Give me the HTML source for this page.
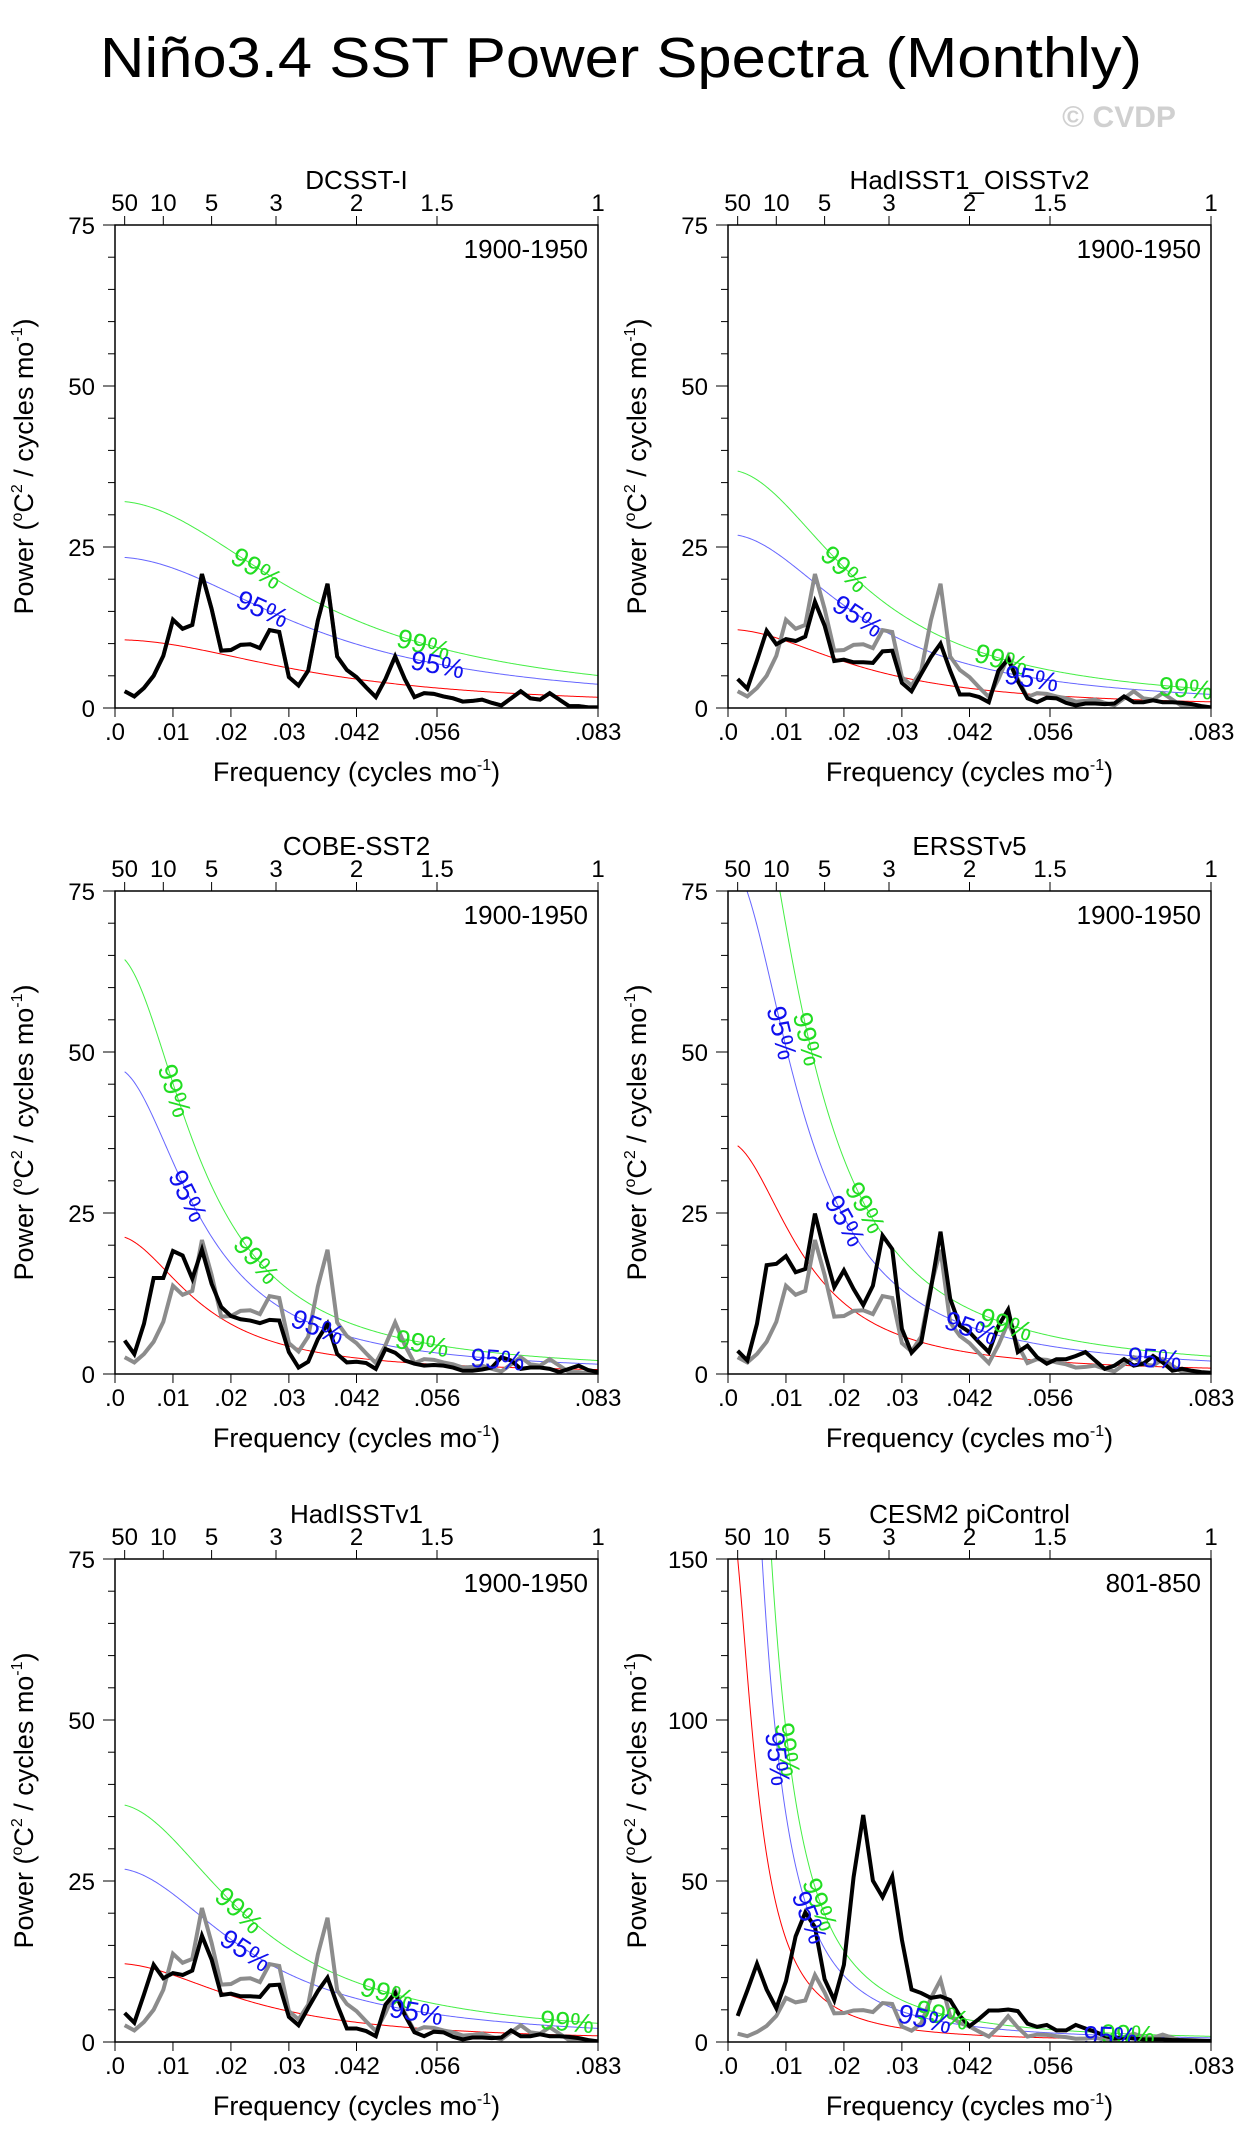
<!DOCTYPE html>
<html><head><meta charset="utf-8"><title>Niño3.4 SST Power Spectra</title>
<style>
html,body{margin:0;padding:0;background:#fff;}
svg{display:block;font-family:"Liberation Sans",Arial,sans-serif;}
</style></head>
<body>
<svg id="chart" width="1248" height="2152" viewBox="0 0 1248 2152" xmlns="http://www.w3.org/2000/svg">
<rect width="1248" height="2152" fill="#fff"/>
<text x="621" y="77" font-size="57" text-anchor="middle" textLength="1042" lengthAdjust="spacingAndGlyphs">Niño3.4 SST Power Spectra (Monthly)</text>
<text x="1119" y="127" font-size="30" font-weight="bold" fill="#d0d0d0" text-anchor="middle">© CVDP</text>
</svg>
<script>
// ---- data ----
const panelNames = ["DCSST-I","HadISST1_OISSTv2","COBE-SST2","ERSSTv5","HadISSTv1","CESM2 piControl"];
const panelPeriods = ["1900-1950","1900-1950","1900-1950","1900-1950","1900-1950","801-850"];
const panelYMax = [75,75,75,75,75,150];
const referencePower = [2.6,1.8,3.1,5.0,8.1,13.7,12.3,12.9,20.8,15.4,8.9,9.0,9.8,9.9,9.3,12.1,11.8,4.8,3.5,5.8,13.6,19.3,8.0,5.9,4.8,3.2,1.7,4.5,8.0,4.5,1.7,2.3,2.2,1.8,1.5,1.0,1.1,1.3,0.8,0.4,1.5,2.6,1.5,1.3,2.3,1.3,0.3,0.3,0.1,0.1];
const dcsstPower = [2.6,1.8,3.1,5.0,8.1,13.7,12.3,12.9,20.8,15.4,8.9,9.0,9.8,9.9,9.3,12.1,11.8,4.8,3.5,5.8,13.6,19.3,8.0,5.9,4.8,3.2,1.7,4.5,8.0,4.5,1.7,2.3,2.2,1.8,1.5,1.0,1.1,1.3,0.8,0.4,1.5,2.6,1.5,1.3,2.3,1.3,0.3,0.3,0.1,0.1];
const hadOisstPower = [4.5,3.0,7.4,12.0,9.9,10.7,10.4,11.1,16.5,12.8,7.3,7.5,7.1,7.1,7.0,8.8,8.9,3.9,2.6,5.3,7.9,10.0,5.8,2.1,2.1,1.7,0.9,5.8,7.6,4.2,1.5,0.9,1.6,1.5,0.8,0.4,0.7,0.7,0.6,0.7,1.8,0.9,0.9,1.2,0.9,0.9,0.8,0.6,0.3,0.1];
const cobePower = [5.2,3.1,7.8,14.9,14.9,19.1,18.4,14.8,19.3,14,10.4,9.0,8.5,8.3,7.9,8.4,8.3,3.4,1.0,1.9,5.4,7.8,3.1,1.8,1.9,1.7,0.8,3.9,3.3,2.1,1.6,1.3,1.4,1.3,1.0,0.5,0.5,0.7,1.0,2.6,2.1,0.8,1.0,1.0,0.8,0.3,0.8,1.3,0.6,0.3];
const ersstPower = [3.6,2.1,7.8,16.9,17.1,18.3,15.8,16.3,24.9,18.9,13.5,16.1,13.2,10.7,13.7,21.5,19.4,7.0,3.3,4.9,13.2,22.1,11.7,7.5,6.5,4.9,3.4,7.5,10.0,3.4,4.4,2.6,1.6,2.3,2.3,2.8,3.4,2.1,0.8,1.3,2.3,1.3,1.6,2.8,1.8,0.5,0.8,0.5,0.3,0.2];
const hadV1Power = [4.5,3.0,7.4,12.0,9.9,10.7,10.4,11.1,16.5,12.8,7.3,7.5,7.1,7.1,7.0,8.8,8.9,3.9,2.6,5.3,7.9,10.0,5.8,2.1,2.1,1.7,0.9,5.8,7.6,4.2,1.5,0.9,1.6,1.5,0.8,0.4,0.7,0.7,0.6,0.7,1.8,0.9,0.9,1.2,0.9,0.9,0.8,0.6,0.3,0.1];
const cesmPower = [8.1,16,24.3,16.3,10.5,18.9,32.8,40.2,35.7,19.5,13,24,51.2,70.5,50.1,45,51.4,31.8,16.3,15.2,13.7,14.2,13,8.1,4.9,7.2,9.8,9.8,10.1,9.6,5.7,4.7,5.3,3.6,3.6,5.3,4.2,3.2,1.9,1.1,1.4,1.1,0.8,0.8,0.8,0.6,0.6,0.5,0.4,0.3];
const redNoiseS0 = [10.6,12.2,21.5,36,12.2,168];
const redNoiseLag1 = [0.8,0.86,0.91,0.92,0.86,0.97];
const conf95Factor = 2.21;
const conf99Factor = 3.03;
const label99Freqs = [[0.0245,0.0533],[0.0202,0.0472,0.079],[0.0104,0.0245,0.053],[0.0139,0.0238,0.048],[0.0215,0.047,0.078],[0.0104,0.016,0.037,0.069]];
const label95Freqs = [[0.0255,0.0557],[0.0225,0.0524],[0.0127,0.035,0.066],[0.0094,0.0203,0.042,0.0736],[0.0226,0.052],[0.0087,0.0142,0.034,0.066]];
const xTickVals = [0,0.01,0.02,0.03,1/24,1/18,1/12];
const xTickLabels = [".0",".01",".02",".03",".042",".056",".083"];
const periodVals = [50,10,5,3,2,1.5,1];
const periodLabels = ["50","10","5","3","2","1.5","1"];
const panelSeries = [dcsstPower,hadOisstPower,cobePower,ersstPower,hadV1Power,cesmPower];

// ---- layout ----
const NS="http://www.w3.org/2000/svg";
const svg=document.getElementById('chart');
const colX=[115,728], rowY=[225,891,1559], PW=483, PH=483, FMAX=1/12;
function mk(tag,attrs,parent){const e=document.createElementNS(NS,tag);for(const k in attrs)e.setAttribute(k,attrs[k]);(parent||svg).appendChild(e);return e;}
function redNoise(p,f){const r=redNoiseLag1[p];return redNoiseS0[p]*(1-r)*(1-r)/(1-2*r*Math.cos(2*Math.PI*f)+r*r);}

panelNames.forEach((name,p)=>{
  const x0=colX[p%2], y0=rowY[Math.floor(p/2)], ymax=panelYMax[p];
  const sx=f=>x0+f/FMAX*PW;
  const sy=v=>y0+PH-v/ymax*PH;
  const g=mk('g',{});
  
  
  const clip=mk('clipPath',{id:'clip'+p},g);
  mk('rect',{x:x0,y:y0,width:PW,height:PH},clip);
  const t=mk('text',{x:x0+PW/2,y:y0-36,'font-size':26,'text-anchor':'middle'},g);t.textContent=name;
  
  
  const pt=mk('text',{x:x0+PW-10,y:y0+33,'font-size':26,'text-anchor':'end'},g);pt.textContent=panelPeriods[p];
  
  
  const major=ymax/3, minor=ymax===150?10:5;
  for(let v=0;v<=ymax+1e-9;v+=minor){
    const isMaj=Math.abs(v/major-Math.round(v/major))<1e-6;
    mk('line',{x1:x0-(isMaj?12:7),x2:x0,y1:sy(v),y2:sy(v),stroke:'#000','stroke-width':1},g);
    if(isMaj){const yl=mk('text',{x:x0-20,y:sy(v)+9,'font-size':24,'text-anchor':'end'},g);yl.textContent=String(v);
      
      }
  }
  xTickVals.forEach((f,i)=>{
    mk('line',{x1:sx(f),x2:sx(f),y1:y0+PH,y2:y0+PH+9,stroke:'#000','stroke-width':1},g);
    const xl=mk('text',{x:sx(f),y:y0+PH+32,'font-size':24,'text-anchor':'middle'},g);xl.textContent=xTickLabels[i];
    
    
  });
  periodVals.forEach((per,i)=>{
    const f=1/(12*per);
    mk('line',{x1:sx(f),x2:sx(f),y1:y0,y2:y0-9,stroke:'#000','stroke-width':1},g);
    const tl=mk('text',{x:sx(f),y:y0-14,'font-size':24,'text-anchor':'middle'},g);tl.textContent=periodLabels[i];
    
    
  });
  const xt=mk('text',{x:x0+PW/2,y:y0+PH+73,'font-size':27,'text-anchor':'middle'},g);
  xt.innerHTML='Frequency (cycles mo<tspan dy="-11" font-size="16">-1</tspan><tspan dy="11">)</tspan>';
  
  
  const yt=mk('text',{x:0,y:0,'font-size':27,'text-anchor':'middle',transform:`translate(${x0-82},${y0+PH/2}) rotate(-90)`},g);
  yt.innerHTML='Power (<tspan dy="-11" font-size="16">o</tspan><tspan dy="11">C</tspan><tspan dy="-11" font-size="16">2</tspan><tspan dy="11"> / cycles mo</tspan><tspan dy="-11" font-size="16">-1</tspan><tspan dy="11">)</tspan>';
  
  
  const cg=mk('g',{'clip-path':`url(#clip${p})`},g);
  const curves=[[1,'#ff0000','red-noise-curve'],[conf95Factor,'#6666ff','conf-95-curve'],[conf99Factor,'#44ee44','conf-99-curve']];
  curves.forEach(([fac,col,nm])=>{
    let d='';
    for(let i=0;i<=400;i++){const f=1/600+(FMAX-1/600)*i/400;let yy=sy(fac*redNoise(p,f));if(yy<y0-50)yy=y0-50;d+=(i?'L':'M')+sx(f).toFixed(2)+','+yy.toFixed(2);}
    const pa=mk('path',{d:d,fill:'none',stroke:col,'stroke-width':1},cg);
    
    
  });
  const lineOf=(arr,col,nm)=>{
    const d=arr.map((v,i)=>(i?'L':'M')+sx((i+1)/600).toFixed(2)+','+sy(v).toFixed(2)).join('');
    const pa=mk('path',{d:d,fill:'none',stroke:col,'stroke-width':4,'stroke-linejoin':'miter'},cg);
    
    
  };
  lineOf(referencePower,'#8c8c8c','reference-spectrum-line');
  lineOf(panelSeries[p],'#000','spectrum-line');
  const addLab=(freqs,fac,col,txt)=>{
    freqs.forEach(f=>{
      const xa=sx(f), ya=sy(fac*redNoise(p,f));
      const ya2=sy(fac*redNoise(p,f+0.0005)), xa2=sx(f+0.0005);
      const ang=Math.atan2(ya2-ya,xa2-xa)*180/Math.PI;
      const lt=mk('text',{x:0,y:0,'font-size':27,fill:col,'text-anchor':'middle',transform:`translate(${xa.toFixed(1)},${ya.toFixed(1)}) rotate(${ang.toFixed(1)}) translate(0,10)`},cg);
      lt.textContent=txt;
      
      
    });
  };
  addLab(label99Freqs[p],conf99Factor,'#22dd22','99%');
  addLab(label95Freqs[p],conf95Factor,'#1010ee','95%');
  const fr=mk('rect',{x:x0,y:y0,width:PW,height:PH,fill:'none',stroke:'#000','stroke-width':1.5},g);
  
  
});
</script>
</body></html>
